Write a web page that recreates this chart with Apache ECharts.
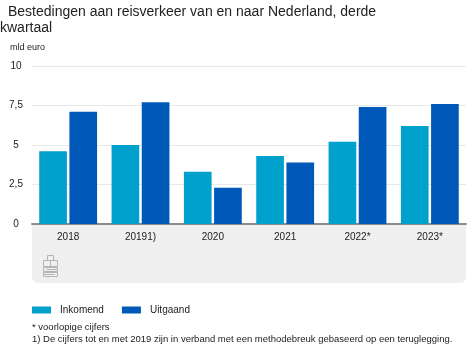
<!DOCTYPE html>
<html>
<head>
<meta charset="utf-8">
<script src="https://cdn.jsdelivr.net/npm/echarts@6/dist/echarts.min.js"></script>
<style>html,body{margin:0;padding:0;background:#fff}#c{width:474px;height:355px}</style>
</head>
<body>
<div id="c"></div>
<script>
const categories = ['2018', '20191)', '2020', '2021', '2022*', '2023*'];
const inkomend = [4.6, 5.0, 3.3, 4.3, 5.2, 6.2];
const uitgaand = [7.1, 7.7, 2.3, 3.9, 7.4, 7.6];
const seriesNames = ['Inkomend', 'Uitgaand'];
const yTicks = [0, 2.5, 5, 7.5, 10];
const titleLines = ['Bestedingen aan reisverkeer van en naar Nederland, derde', 'kwartaal'];
const unitLabel = 'mld euro';
const notes = ['* voorlopige cijfers', '1) De cijfers tot en met 2019 zijn in verband met een methodebreuk gebaseerd op een teruglegging.'];

const FONT = '"Liberation Sans", Arial, Helvetica, sans-serif';
const chart = echarts.init(document.getElementById('c'), null, {renderer: 'canvas'});

const logoColor = '#b5b5b5';
chart.setOption({
  animation: false,
  textStyle: {fontFamily: FONT},
  grid: {left: 32, right: 8, top: 66, bottom: 131, containLabel: false},
  legend: {
    data: seriesNames,
    left: 27, top: 300,
    itemWidth: 19, itemHeight: 7, itemGap: 18,
    icon: 'rect',
    textStyle: {fontSize: 10, color: '#222', fontFamily: FONT, padding: [0, 0, 0, 4]}
  },
  xAxis: {
    type: 'category',
    data: categories,
    axisLine: {lineStyle: {color: '#8c8c8c', width: 2}},
    axisTick: {show: false},
    axisLabel: {color: '#222', fontSize: 10, margin: 8, fontFamily: FONT}
  },
  yAxis: {
    type: 'value',
    min: yTicks[0], max: yTicks[yTicks.length - 1], interval: 2.5,
    axisLine: {show: false}, axisTick: {show: false},
    splitLine: {lineStyle: {color: '#e8e8e8', width: 1}},
    axisLabel: {
      color: '#222', fontSize: 10, margin: 16, align: 'center', fontFamily: FONT,
      formatter: v => String(v).replace('.', ',')
    }
  },
  series: [
    {name: seriesNames[0], type: 'bar', data: inkomend, itemStyle: {color: '#00a1cd'}, barGap: '9%', barCategoryGap: '20%'},
    {name: seriesNames[1], type: 'bar', data: uitgaand, itemStyle: {color: '#0058b8'}, barGap: '9%', barCategoryGap: '20%'}
  ],
  graphic: [
    {type: 'rect', z: -10, shape: {x: 32, y: 225, width: 434, height: 58, r: [0, 0, 6, 6]}, style: {fill: '#efefef'}},
    {type: 'text', left: 8, top: 5, style: {text: titleLines[0], font: '14px ' + FONT, fill: '#222'}},
    {type: 'text', left: 0, top: 21, style: {text: titleLines[1], font: '14px ' + FONT, fill: '#222'}},
    {type: 'text', left: 10, top: 43, style: {text: unitLabel, font: '9px ' + FONT, fill: '#222'}},
    {type: 'text', left: 32, top: 322, style: {text: notes[0], font: '9.5px ' + FONT, fill: '#222'}},
    {type: 'text', left: 32, top: 334, style: {text: notes[1], font: '9.5px ' + FONT, fill: '#222'}},
    {type: 'group', left: 41, top: 253, children: [
      {type: 'rect', shape: {x: 4, y: 0, width: 6, height: 5}, style: {fill: 'none', stroke: logoColor, lineWidth: 1}},
      {type: 'rect', shape: {x: 0, y: 5, width: 7, height: 6}, style: {fill: 'none', stroke: logoColor, lineWidth: 1}},
      {type: 'rect', shape: {x: 7, y: 5, width: 7, height: 6}, style: {fill: 'none', stroke: logoColor, lineWidth: 1}},
      {type: 'rect', shape: {x: 0, y: 12, width: 14, height: 4}, style: {fill: 'none', stroke: logoColor, lineWidth: 1}},
      {type: 'rect', shape: {x: 0, y: 17, width: 14, height: 4}, style: {fill: 'none', stroke: logoColor, lineWidth: 1}},
      {type: 'line', shape: {x1: 3, y1: 14, x2: 14, y2: 14}, style: {stroke: logoColor, lineWidth: 1}},
      {type: 'line', shape: {x1: 0, y1: 19, x2: 11, y2: 19}, style: {stroke: logoColor, lineWidth: 1}}
    ]}
  ]
});
</script>
</body>
</html>
